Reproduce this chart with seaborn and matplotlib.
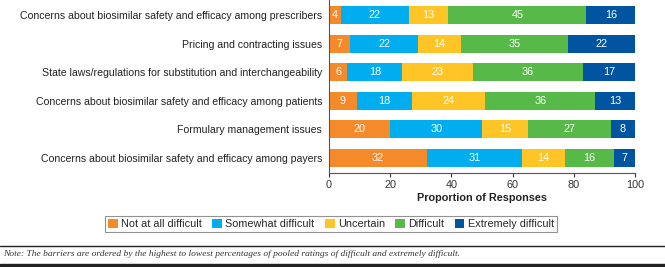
import numpy as np
import pandas as pd
import matplotlib
matplotlib.use("Agg")
import matplotlib.pyplot as plt
import seaborn as sns
from matplotlib.patches import Patch, Rectangle
from matplotlib.lines import Line2D

# 数据
barriers = [
    "Concerns about biosimilar safety and efficacy among prescribers",
    "Pricing and contracting issues",
    "State laws/regulations for substitution and interchangeability",
    "Concerns about biosimilar safety and efficacy among patients",
    "Formulary management issues",
    "Concerns about biosimilar safety and efficacy among payers",
]
levels = ["Not at all difficult", "Somewhat difficult", "Uncertain", "Difficult", "Extremely difficult"]
not_at_all = [4, 7, 6, 9, 20, 32]
somewhat = [22, 22, 18, 18, 30, 31]
uncertain = [13, 14, 23, 24, 15, 14]
difficult = [45, 35, 36, 36, 27, 16]
extremely = [16, 22, 17, 13, 8, 7]
colors = ["#F58A2B", "#00AEEF", "#FFC425", "#57B947", "#0054A0"]

df = pd.DataFrame({
    "barrier": barriers,
    levels[0]: not_at_all,
    levels[1]: somewhat,
    levels[2]: uncertain,
    levels[3]: difficult,
    levels[4]: extremely,
})
cum = df[levels].cumsum(axis=1)

sns.set_style("white")
plt.rcParams['font.family'] = ['Liberation Sans', 'DejaVu Sans']

fig = plt.figure(figsize=(6.65, 2.67), dpi=100)
ax = fig.add_axes([0.4947, 0.352, 0.4606, 0.648])

# 从最右边一层开始画，后面的层盖住前面的
for lev, col in reversed(list(zip(levels, colors))):
    sns.barplot(x=cum[lev], y=df["barrier"], orient="h", color=col,
                width=0.63, saturation=1, ax=ax, linewidth=0)

# 数值标签
for i in range(len(barriers)):
    left = 0
    for lev in levels:
        v = df[lev].iloc[i]
        ax.text(left + v / 2, i, str(v), ha="center", va="center",
                color="white", fontsize=7.8)
        left += v

ax.set_xlim(0, 100)
ax.set_ylim(5.53, -0.53)
ax.set_xticks([0, 20, 40, 60, 80, 100])
ax.set_xlabel("Proportion of Responses", fontsize=7.8, fontweight="bold", color="#222222", labelpad=2)
ax.set_ylabel("")
ax.tick_params(axis="x", labelsize=7.8, colors="#333333", length=3, pad=2, direction="out", bottom=True)
ax.tick_params(axis="y", labelsize=7.55, colors="#222222", length=0, pad=5)
for s in ["top", "right"]:
    ax.spines[s].set_visible(False)
for s in ["left", "bottom"]:
    ax.spines[s].set_color("#555555")
    ax.spines[s].set_linewidth(0.8)

# 图例
handles = [Patch(facecolor=c, edgecolor="none", label=l) for l, c in zip(levels, colors)]
leg = fig.legend(handles=handles, loc="center", bbox_to_anchor=(331 / 665, 1 - 224 / 267),
                 ncol=5, fontsize=7.8, frameon=True, fancybox=False, handlelength=0.9,
                 handleheight=0.9, handletextpad=0.3, columnspacing=0.95,
                 borderpad=0.3, edgecolor="#777777")
leg.get_frame().set_linewidth(0.8)

# 注释和分隔线
fig.add_artist(Line2D([0, 1], [1 - 245.5 / 267, 1 - 245.5 / 267], color="#222222", lw=1.0))
fig.text(0.004, 1 - 254 / 267,
         "Note: The barriers are ordered by the highest to lowest percentages of pooled ratings of difficult and extremely difficult.",
         fontsize=6.8, style="italic", family=["Liberation Serif", "DejaVu Serif"],
         color="#333333", va="center", ha="left")
fig.add_artist(Rectangle((0, 0), 1, 3 / 267, color="#222222", transform=fig.transFigure))

plt.savefig("out.png", dpi=100)
